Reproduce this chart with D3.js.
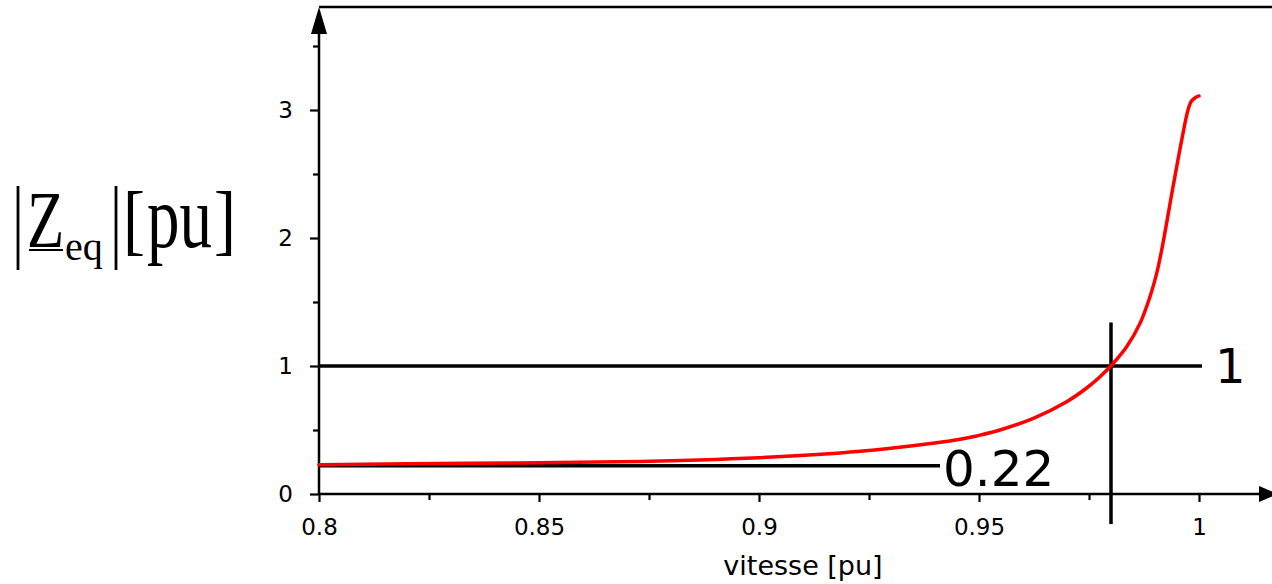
<!DOCTYPE html>
<html>
<head>
<meta charset="utf-8">
<script src="https://cdn.jsdelivr.net/npm/d3@7"></script>
<style>
  html, body { margin: 0; padding: 0; background: #fff; }
  svg { display: block; }
</style>
</head>
<body>
<svg id="chart" width="1272" height="584"></svg>
<script>
// ---- data ----
const speed = [0.8, 0.834, 0.868, 0.9, 0.923, 0.9457, 0.95, 0.95477, 0.96235, 0.96993, 0.97447, 0.9775, 0.98015, 0.98356, 0.98659, 0.98886, 0.99038, 0.99152, 0.9941, 0.9961, 0.9975, 0.9983, 0.9993, 1.0];
const zeq   = [0.229, 0.240, 0.252, 0.284, 0.334, 0.428, 0.458, 0.50, 0.591, 0.721, 0.828, 0.916, 1.008, 1.151, 1.333, 1.541, 1.724, 1.906, 2.4, 2.77, 3.0, 3.07, 3.10, 3.11];
const xTickValues = [0.8, 0.85, 0.9, 0.95, 1];
const xTickLabels = ["0.8", "0.85", "0.9", "0.95", "1"];
const xMinorTicks = [0.825, 0.875, 0.925, 0.975];
const yTickValues = [0, 1, 2, 3];
const yTickLabels = ["0", "1", "2", "3"];
const yMinorTicks = [0.5, 1.5, 2.5, 3.5];
const refLevels = [1, 0.22];
const refLabels = ["1", "0.22"];
const refSpeed = 0.98;
const xAxisLabel = "vitesse [pu]";

// ---- layout ----
const svg = d3.select("#chart");
const W = 1272;
svg.append("rect").attr("width", W).attr("height", 584).attr("fill", "#fff");

const x = d3.scaleLinear().domain([0.8, 1]).range([319, 1199]);
const y = d3.scaleLinear().domain([0, 3]).range([494, 110]);
const x0 = x(0.8), y0 = y(0);
const yTop = 7, xRight = 1272;
const sans = "'DejaVu Sans', Verdana, sans-serif";
const serif = "'Liberation Serif', 'Times New Roman', serif";

// top frame line
svg.append("line").attr("x1", x0).attr("x2", xRight).attr("y1", yTop).attr("y2", yTop)
  .attr("stroke", "#000").attr("stroke-width", 2.5);

// x axis
const gx = svg.append("g").attr("transform", `translate(0,${y0})`);
gx.call(d3.axisBottom(x).tickValues(xTickValues).tickFormat((d, i) => xTickLabels[i])
  .tickSize(8).tickSizeOuter(0).tickPadding(17));
gx.call(g => g.select(".domain").remove());
gx.selectAll(".tick line").attr("stroke-width", 2.2);
gx.selectAll(".tick text").attr("font-family", sans).attr("font-size", 23).attr("fill", "#000");
const gxm = svg.append("g").attr("transform", `translate(0,${y0})`);
gxm.call(d3.axisBottom(x).tickValues(xMinorTicks).tickFormat("").tickSize(6).tickSizeOuter(0));
gxm.call(g => g.select(".domain").remove());
gxm.selectAll(".tick line").attr("stroke-width", 2.2);

svg.append("line").attr("x1", x0).attr("x2", xRight - 10).attr("y1", y0).attr("y2", y0)
  .attr("stroke", "#000").attr("stroke-width", 2.5);
svg.append("path").attr("d", `M${xRight + 6},${y0} L${xRight - 13},${y0 - 8} L${xRight - 13},${y0 + 8} Z`).attr("fill", "#000");

// y axis
const gy = svg.append("g").attr("transform", `translate(${x0},0)`);
gy.call(d3.axisLeft(y).tickValues(yTickValues).tickFormat((d, i) => yTickLabels[i])
  .tickSize(9).tickSizeOuter(0).tickPadding(17));
gy.call(g => g.select(".domain").remove());
gy.selectAll(".tick line").attr("stroke-width", 2.2);
gy.selectAll(".tick text").attr("font-family", sans).attr("font-size", 23).attr("fill", "#000");
const gym = svg.append("g").attr("transform", `translate(${x0},0)`);
gym.call(d3.axisLeft(y).tickValues(yMinorTicks).tickFormat("").tickSize(6).tickSizeOuter(0));
gym.call(g => g.select(".domain").remove());
gym.selectAll(".tick line").attr("stroke-width", 2.2);

svg.append("line").attr("x1", x0).attr("x2", x0).attr("y1", y0 + 1).attr("y2", yTop + 20)
  .attr("stroke", "#000").attr("stroke-width", 2.5);
svg.append("path").attr("d", `M${x0},${yTop} L${x0 - 8},${yTop + 27} L${x0 + 8},${yTop + 27} Z`).attr("fill", "#000");

// x axis label
svg.append("text").attr("x", 803).attr("y", 575).attr("text-anchor", "middle")
  .attr("font-family", sans).attr("font-size", 27).attr("fill", "#000").text(xAxisLabel);

// reference lines
const refEnds = [1202, 940];
refLevels.forEach((v, i) => {
  svg.append("line").attr("x1", x0).attr("x2", refEnds[i]).attr("y1", y(v)).attr("y2", y(v))
    .attr("stroke", "#000").attr("stroke-width", 3.5);
});
svg.append("line").attr("x1", x(refSpeed)).attr("x2", x(refSpeed)).attr("y1", y(1.34)).attr("y2", y(-0.235))
  .attr("stroke", "#000").attr("stroke-width", 3.5);
svg.append("text").attr("x", 1215).attr("y", 383).attr("font-family", sans).attr("font-size", 48)
  .attr("fill", "#000").text(refLabels[0]);
svg.append("text").attr("x", 943).attr("y", 486).attr("font-family", sans).attr("font-size", 50)
  .attr("fill", "#000").text(refLabels[1]);

// curve
const line = d3.line().x((d, i) => x(speed[i])).y(d => y(d)).curve(d3.curveCatmullRom.alpha(0.5));
svg.append("path").datum(zeq).attr("d", line).attr("fill", "none")
  .attr("stroke", "#ff0000").attr("stroke-width", 3.5).attr("stroke-linecap", "round");

// y axis label |Z_eq| [pu]
const yl = svg.append("g");
yl.append("line").attr("x1", 18).attr("x2", 18).attr("y1", 186).attr("y2", 270).attr("stroke", "#000").attr("stroke-width", 2.8);
yl.append("line").attr("x1", 116).attr("x2", 116).attr("y1", 186).attr("y2", 270).attr("stroke", "#000").attr("stroke-width", 2.8);
yl.append("text").attr("transform", "translate(27,247) scale(1.05,1.37)")
  .attr("font-family", serif).attr("font-size", 58).attr("fill", "#000").text("Z");
yl.append("line").attr("x1", 29).attr("x2", 63).attr("y1", 250).attr("y2", 250).attr("stroke", "#000").attr("stroke-width", 2.2);
yl.append("text").attr("x", 65).attr("y", 260)
  .attr("font-family", serif).attr("font-size", 40).attr("fill", "#000").text("eq");
yl.append("text").attr("transform", "translate(123,246) scale(1.1,1.3)")
  .attr("font-family", serif).attr("font-size", 60).attr("fill", "#000").text("[");
yl.append("text").attr("transform", "translate(147,247) scale(1,1.37)")
  .attr("font-family", serif).attr("font-size", 65).attr("fill", "#000").text("pu");
yl.append("text").attr("transform", "translate(214,246) scale(1.1,1.3)")
  .attr("font-family", serif).attr("font-size", 60).attr("fill", "#000").text("]");
</script>
</body>
</html>
